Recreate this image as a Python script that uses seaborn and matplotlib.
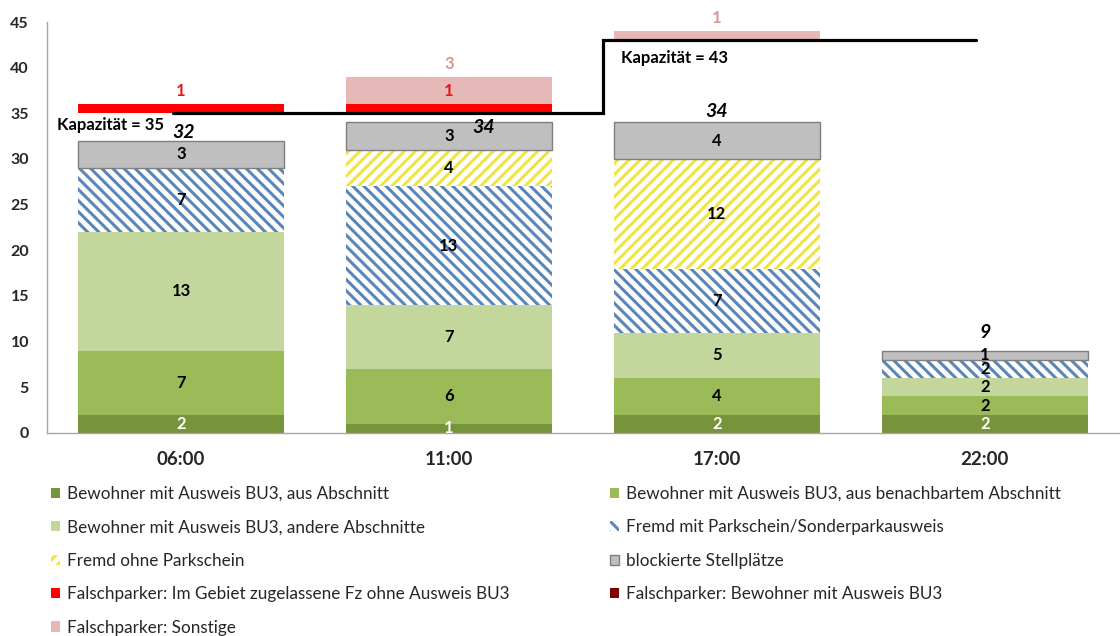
import matplotlib
matplotlib.use("Agg")
import matplotlib.pyplot as plt
from matplotlib.patches import Patch
import numpy as np
import pandas as pd
import seaborn as sns

# Daten
zeiten = ["06:00", "11:00", "17:00", "22:00"]

bew_abschnitt = [2, 1, 2, 2]
bew_nachbar = [7, 6, 4, 2]
bew_andere = [13, 7, 5, 2]
fremd_mit = [7, 13, 7, 2]
fremd_ohne = [0, 4, 12, 0]
blockiert = [3, 3, 4, 1]
falsch_fz = [1, 1, 0, 0]
falsch_bew = [0, 0, 0, 0]
falsch_sonst = [0, 3, 1, 0]

# Kapazität je Zeitpunkt und Verlauf der Kapazitätslinie
kapazitaet = [35, 35, 43, 43]
kap_x = [-0.03, 1.575, 1.575, 2.965]
kap_y = [35, 35, 43, 43]

sns.set_theme(style="white")
plt.rcParams["font.family"] = ["Lato", "DejaVu Sans"]
plt.rcParams["hatch.linewidth"] = 2.2

serien = [
    ("Bewohner mit Ausweis BU3, aus Abschnitt", bew_abschnitt,
     dict(color="#77933c", edge="none", hatch=None, txt="white")),
    ("Bewohner mit Ausweis BU3, aus benachbartem Abschnitt", bew_nachbar,
     dict(color="#9bbb59", edge="none", hatch=None, txt="black")),
    ("Bewohner mit Ausweis BU3, andere Abschnitte", bew_andere,
     dict(color="#c3d69b", edge="none", hatch=None, txt="black")),
    ("Fremd mit Parkschein/Sonderparkausweis", fremd_mit,
     dict(color="white", edge="#5a86b8", hatch="\\\\\\", txt="black")),
    ("Fremd ohne Parkschein", fremd_ohne,
     dict(color="white", edge="#f0e442", hatch="///", txt="black")),
    ("blockierte Stellplätze", blockiert,
     dict(color="#bfbfbf", edge="#7f7f7f", hatch=None, txt="black")),
    ("Falschparker: Im Gebiet zugelassene Fz ohne Ausweis BU3", falsch_fz,
     dict(color="#ff0000", edge="none", hatch=None, txt="#e31a1c")),
    ("Falschparker: Bewohner mit Ausweis BU3", falsch_bew,
     dict(color="#7f0000", edge="none", hatch=None, txt="#7f0000")),
    ("Falschparker: Sonstige", falsch_sonst,
     dict(color="#e6b9b8", edge="none", hatch=None, txt="#d99694")),
]

fig = plt.figure(figsize=(11.2, 6.36), dpi=100)
ax = fig.add_axes([0.042, 0.3192, 0.957, 0.6462])

summe = np.zeros(len(zeiten))
for name, werte, st in serien[:6]:
    summe += np.array(werte)
gesamt = summe.copy()

boden = np.zeros(len(zeiten))
handles = []
for i, (name, werte, st) in enumerate(serien):
    werte = np.array(werte, dtype=float)
    if i == 6:
        # Falschparker stehen oberhalb der Kapazitätsgrenze
        hat_falsch = (np.array(falsch_fz) + np.array(falsch_bew) + np.array(falsch_sonst)) > 0
        boden = np.where(hat_falsch, np.array(kapazitaet, dtype=float), boden)
    df = pd.DataFrame({"zeit": zeiten, "wert": werte})
    lw = 0 if st["edge"] == "none" or st["hatch"] else 1.0
    kws = dict(edgecolor=st["edge"], linewidth=lw)
    if st["hatch"]:
        kws["hatch"] = st["hatch"]
    sns.barplot(data=df, x="zeit", y="wert", bottom=boden.copy(), color=st["color"],
                saturation=1, width=0.77, errorbar=None, ax=ax, **kws)
    handles.append(Patch(facecolor=st["color"], edgecolor=st["edge"], hatch=st["hatch"],
                         linewidth=lw, label=name))
    for j, w in enumerate(werte):
        if w <= 0:
            continue
        if name.startswith("Falschparker"):
            ax.text(j, boden[j] + w + 1.45, f"{int(w)}", ha="center", va="center",
                    fontsize=12, fontweight="bold", color=st["txt"])
        else:
            ax.text(j, boden[j] + w / 2, f"{int(w)}", ha="center", va="center",
                    fontsize=12, fontweight="bold", color=st["txt"])
    boden = boden + werte

# Summen über den Säulen
summen_offset = [(0.01, 0.85), (0.13, -0.5), (0.0, 1.15), (0.0, 1.95)]
for j, g in enumerate(gesamt):
    dx, dy = summen_offset[j]
    ax.text(j + dx, g + dy, f"{int(g)}", ha="center", va="center", fontsize=14,
            fontweight="bold", fontstyle="italic", color="black")

# Kapazitätslinie
ax.plot(kap_x, kap_y, color="black", linewidth=2.3, solid_joinstyle="miter", zorder=5)
ax.text(-0.463, 33.7, "Kapazität = 35", ha="left", va="center", fontsize=12,
        fontweight="bold", color="black", zorder=6)
ax.text(1.642, 41.06, "Kapazität = 43", ha="left", va="center", fontsize=12,
        fontweight="bold", color="black", zorder=6)

ax.set_xlim(-0.5, 3.5)
ax.set_ylim(0, 45)
ax.set_yticks(np.arange(0, 46, 5))
ax.set_xlabel("")
ax.set_ylabel("")
ax.tick_params(axis="y", length=0, pad=13, labelsize=11.5)
ax.tick_params(axis="x", length=0, pad=13, labelsize=13.5)
for lab in ax.get_xticklabels() + ax.get_yticklabels():
    lab.set_fontweight("bold")
for s in ["top", "right"]:
    ax.spines[s].set_visible(False)
for s in ["left", "bottom"]:
    ax.spines[s].set_color("#a6a6a6")
    ax.spines[s].set_linewidth(1.0)

# Legende: zeilenweise in zwei Spalten
reihenfolge = [0, 2, 4, 6, 8, 1, 3, 5, 7]
fig.legend([handles[k] for k in reihenfolge], [handles[k].get_label() for k in reihenfolge],
           loc="upper left", bbox_to_anchor=(0.0455, 0.236), ncol=2, frameon=False,
           fontsize=12.3, handlelength=0.55, handleheight=0.55, handletextpad=0.4,
           labelspacing=1.02, columnspacing=5.85, borderaxespad=0, borderpad=0)

fig.savefig("out.png", dpi=100)
